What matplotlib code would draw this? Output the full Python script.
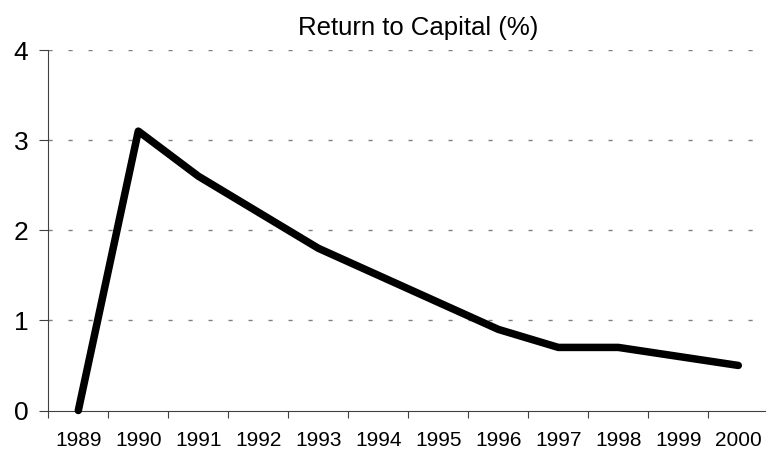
import matplotlib
matplotlib.use("Agg")
import matplotlib.pyplot as plt

years = ["1989", "1990", "1991", "1992", "1993", "1994", "1995", "1996", "1997", "1998", "1999", "2000"]
values = [0.0, 3.1, 2.6, 2.2, 1.8, 1.5, 1.2, 0.9, 0.7, 0.7, 0.6, 0.5]
yticks = [0, 1, 2, 3, 4]
title = "Return to Capital (%)"

plt.rcParams['font.family'] = ['Liberation Sans', 'DejaVu Sans']

W, H = 766, 453
fig = plt.figure(figsize=(W / 100, H / 100), dpi=100)
ax = fig.add_axes([48.3 / W, 1 - 410.5 / H, 720 / W, (410.5 - 50) / H])

x = list(range(len(years)))
ax.plot(x, values, color='black', linewidth=5.4, solid_capstyle='round',
        solid_joinstyle='round', zorder=3, clip_on=False)

ax.set_xlim(-0.5, len(years) - 0.5)
ax.set_ylim(0, 4)

ax.set_yticks(yticks)
ax.set_yticklabels([str(v) for v in yticks], fontsize=19)
ax.tick_params(axis='y', length=6.5, width=0.8, color='#404040', pad=8)

ax.set_xticks([i - 0.5 for i in range(len(years) + 1)])
ax.set_xticklabels([])
ax.tick_params(axis='x', which='major', length=5, width=0.8, color='#404040')
ax.set_xticks(x, minor=True)
ax.set_xticklabels(years, minor=True, fontsize=15)
ax.tick_params(axis='x', which='minor', length=0, pad=15)

for v in yticks[1:]:
    ax.axhline(v, color='#808080', linewidth=1, linestyle=(0, (3, 11.4)), zorder=1)

for s in ['top', 'right']:
    ax.spines[s].set_visible(False)
for s in ['left', 'bottom']:
    ax.spines[s].set_color('#404040')
    ax.spines[s].set_linewidth(0.8)

fig.text(418 / W, 1 - 28 / H, title, ha='center', va='center', fontsize=18.5)

fig.savefig("out.png", dpi=100)
